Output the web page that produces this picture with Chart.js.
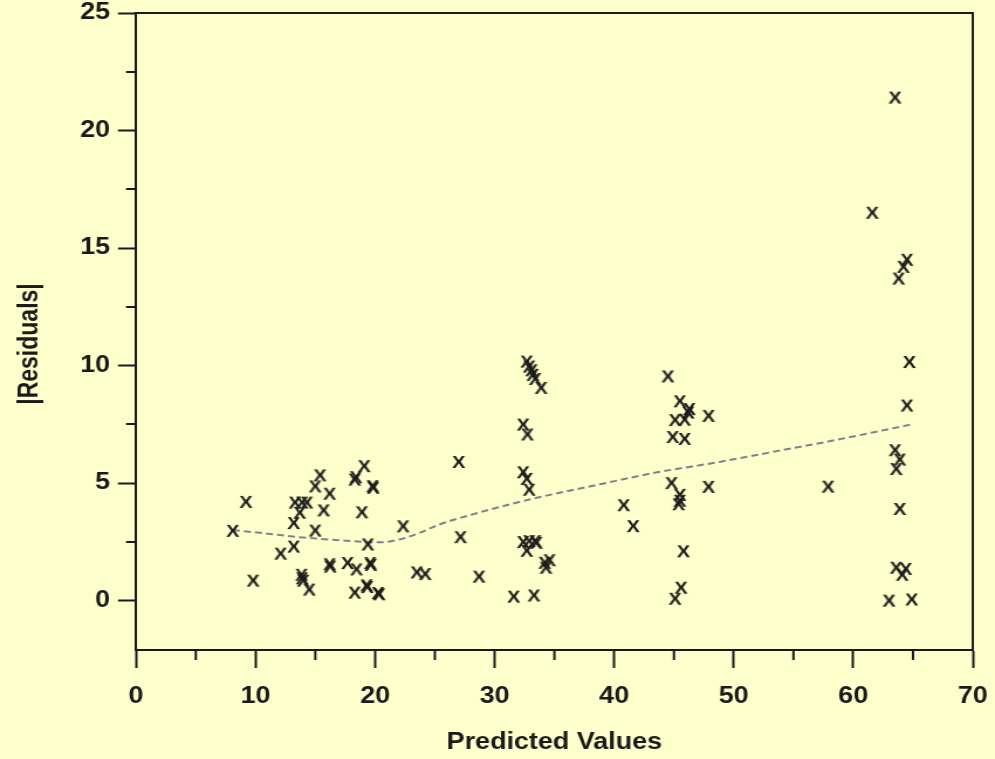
<!DOCTYPE html>
<html>
<head>
<meta charset="utf-8">
<script src="https://cdn.jsdelivr.net/npm/chart.js@4/dist/chart.umd.min.js"></script>
<style>
  html, body { margin: 0; padding: 0; background: #ffffcc; overflow: hidden; }
  /* the drawing is laid out 850 units wide and shown stretched to the 995px window */
  #wrap { width: 850px; height: 759px; transform: scaleX(1.170588); transform-origin: 0 0; }
  #chart { display: block; }
</style>
</head>
<body>
<div id="wrap"><canvas id="chart" width="850" height="759"></canvas></div>
<script>
// Predicted values and absolute residuals for each observation
const predicted = [
  8.1, 9.2, 9.8, 12.1, 13.2, 13.2, 13.3, 13.7, 13.9, 14.3,
  13.85, 13.9, 14.0, 14.5, 15.0, 15.0, 15.4, 15.7, 16.2, 16.2,
  16.25, 17.7, 18.3, 18.4, 18.45, 18.3, 18.9, 19.1, 19.3, 19.35,
  19.4, 19.6, 19.65, 19.8, 19.85, 20.25, 20.35, 22.35, 23.5, 24.2,
  27.0, 27.15, 28.7, 31.6, 32.4, 32.75, 32.4, 32.7, 32.9, 32.7,
  32.9, 33.1, 33.2, 33.4, 33.9, 32.4, 32.9, 33.4, 32.7, 33.5,
  34.2, 34.6, 34.3, 33.3, 40.8, 41.6, 44.5, 45.5, 46.3, 46.2,
  45.1, 45.9, 44.9, 45.9, 47.9, 44.8, 45.5, 45.5, 45.4, 47.9,
  45.8, 45.6, 45.1, 57.9, 61.6, 63.5, 64.5, 64.2, 63.8, 64.7,
  64.5, 63.5, 63.9, 63.6, 63.9, 63.6, 64.4, 64.1, 63.0, 64.9
];
const absResiduals = [
  2.97, 4.2, 0.85, 2.0, 2.3, 3.3, 4.17, 3.74, 4.17, 4.17,
  1.1, 0.95, 0.85, 0.47, 2.98, 4.86, 5.33, 3.84, 4.55, 1.55,
  1.45, 1.6, 5.15, 5.25, 1.33, 0.34, 3.76, 5.72, 0.65, 0.58,
  2.39, 1.6, 1.52, 4.87, 4.8, 0.32, 0.27, 3.16, 1.2, 1.13,
  5.9, 2.7, 1.02, 0.17, 7.49, 7.07, 5.46, 5.18, 4.72, 10.17,
  9.96, 9.8, 9.61, 9.43, 9.05, 2.49, 2.53, 2.53, 2.12, 2.46,
  1.61, 1.72, 1.4, 0.22, 4.06, 3.17, 9.54, 8.48, 8.15, 8.0,
  7.68, 7.7, 6.96, 6.88, 7.86, 5.0, 4.5, 4.25, 4.1, 4.84,
  2.1, 0.55, 0.08, 4.85, 16.5, 21.4, 14.5, 14.2, 13.7, 10.15,
  8.3, 6.4, 6.0, 5.6, 3.9, 1.4, 1.35, 1.1, 0.0, 0.05
];

// Smoothed trend through the absolute residuals
const smoothX = [8.1, 11, 13.7, 17.1, 20.4, 22, 23.7, 25.4, 28, 32.9, 38.8, 43.5, 48.8, 53.5, 58, 64.9];
const smoothY = [3.0, 2.85, 2.7, 2.57, 2.48, 2.6, 2.88, 3.24, 3.65, 4.3, 4.95, 5.45, 5.9, 6.35, 6.78, 7.5];

// Axis ticks
const xMajorTicks = [0, 10, 20, 30, 40, 50, 60, 70];
const xMinorTicks = [5, 15, 25, 35, 45, 55, 65];
const yMajorTicks = [0, 5, 10, 15, 20, 25];
const yMinorTicks = [2.5, 7.5, 12.5, 17.5, 22.5];

const INK = '#1a1a1a';
const FONT = '"Liberation Sans", Arial, Helvetica, sans-serif';

// "X" glyph used as the point marker
function makeMarker() {
  const c = document.createElement('canvas');
  c.width = 20; c.height = 20;
  const g = c.getContext('2d');
  g.fillStyle = INK;
  g.font = 'bold 17px ' + FONT;
  g.textAlign = 'center';
  g.textBaseline = 'alphabetic';
  g.fillText('X', 10, 16.1);
  return c;
}
const marker = makeMarker();

const points = predicted.map((x, i) => ({ x: x, y: absResiduals[i] }));
const trend = smoothX.map((x, i) => ({ x: x, y: smoothY[i] }));

const background = {
  id: 'background',
  beforeDraw(chart) {
    const ctx = chart.ctx;
    ctx.save();
    ctx.fillStyle = '#ffffcc';
    ctx.fillRect(0, 0, chart.width, chart.height);
    ctx.restore();
  }
};

// Top and right edges of the frame, minor tick marks, vertical axis title
const frame = {
  id: 'frame',
  afterDraw(chart) {
    const { ctx, chartArea: a, scales } = chart;
    ctx.save();
    ctx.strokeStyle = INK;
    ctx.lineWidth = 2;
    ctx.beginPath();
    ctx.moveTo(a.left, a.top);
    ctx.lineTo(a.right, a.top);
    ctx.lineTo(a.right, a.bottom);
    ctx.stroke();

    ctx.beginPath();
    xMinorTicks.forEach(v => {
      const px = scales.x.getPixelForValue(v);
      ctx.moveTo(px, a.bottom);
      ctx.lineTo(px, a.bottom + 10);
    });
    yMinorTicks.forEach(v => {
      const py = Math.round(scales.y.getPixelForValue(v));
      ctx.moveTo(a.left - 8.5, py);
      ctx.lineTo(a.left, py);
    });
    ctx.stroke();

    ctx.fillStyle = INK;
    ctx.font = 'bold 23px ' + FONT;
    ctx.textAlign = 'center';
    ctx.textBaseline = 'middle';
    ctx.translate(25.6, 344);
    ctx.rotate(-Math.PI / 2);
    ctx.fillText('|Residuals|', 0, 0);
    ctx.restore();
  }
};

new Chart(document.getElementById('chart'), {
  type: 'scatter',
  data: {
    datasets: [
      {
        label: 'Absolute residuals',
        data: points,
        pointStyle: marker,
        pointRadius: 8,
        pointHoverRadius: 8,
        order: 1
      },
      {
        label: 'Smooth',
        type: 'line',
        data: trend,
        showLine: true,
        borderColor: '#80808f',
        borderWidth: 2,
        borderDash: [6, 3.5],
        pointRadius: 0,
        fill: false,
        tension: 0.3,
        cubicInterpolationMode: 'monotone',
        order: 2
      }
    ]
  },
  options: {
    responsive: false,
    animation: false,
    events: [],
    devicePixelRatio: 1,
    layout: { padding: { left: 0, top: 13, right: 19, bottom: 0 } },
    plugins: {
      legend: { display: false },
      tooltip: { enabled: false }
    },
    scales: {
      x: {
        type: 'linear',
        min: 0,
        max: 70,
        afterBuildTicks(scale) { scale.ticks = xMajorTicks.map(v => ({ value: v })); },
        afterFit(scale) {
          scale.height = 109;
          scale.paddingLeft = 0; scale.paddingRight = 0;
        },
        ticks: {
          autoSkip: false,
          maxRotation: 0,
          color: INK,
          padding: 17,
          font: { family: FONT, size: 23, weight: 'bold', lineHeight: 1.0 }
        },
        grid: {
          display: true,
          drawOnChartArea: false,
          drawTicks: true,
          tickLength: 18,
          tickColor: INK,
          tickWidth: 2
        },
        border: { display: true, color: INK, width: 2 },
        title: {
          display: true,
          text: 'Predicted Values',
          color: INK,
          font: { family: FONT, size: 23, weight: 'bold', lineHeight: 1.2 },
          padding: { top: 0, bottom: 3 }
        }
      },
      y: {
        type: 'linear',
        min: -2.1,
        max: 25,
        afterBuildTicks(scale) { scale.ticks = yMajorTicks.map(v => ({ value: v })); },
        afterFit(scale) {
          scale.width = 116.2;
          scale.paddingTop = 0; scale.paddingBottom = 0;
        },
        ticks: {
          autoSkip: false,
          color: INK,
          padding: 6.8,
          font: { family: FONT, size: 23, weight: 'bold', lineHeight: 1.0 }
        },
        grid: {
          display: true,
          drawOnChartArea: false,
          drawTicks: true,
          tickLength: 15.4,
          tickColor: INK,
          tickWidth: 2
        },
        border: { display: true, color: INK, width: 2 }
      }
    }
  },
  plugins: [background, frame]
});
</script>
</body>
</html>
